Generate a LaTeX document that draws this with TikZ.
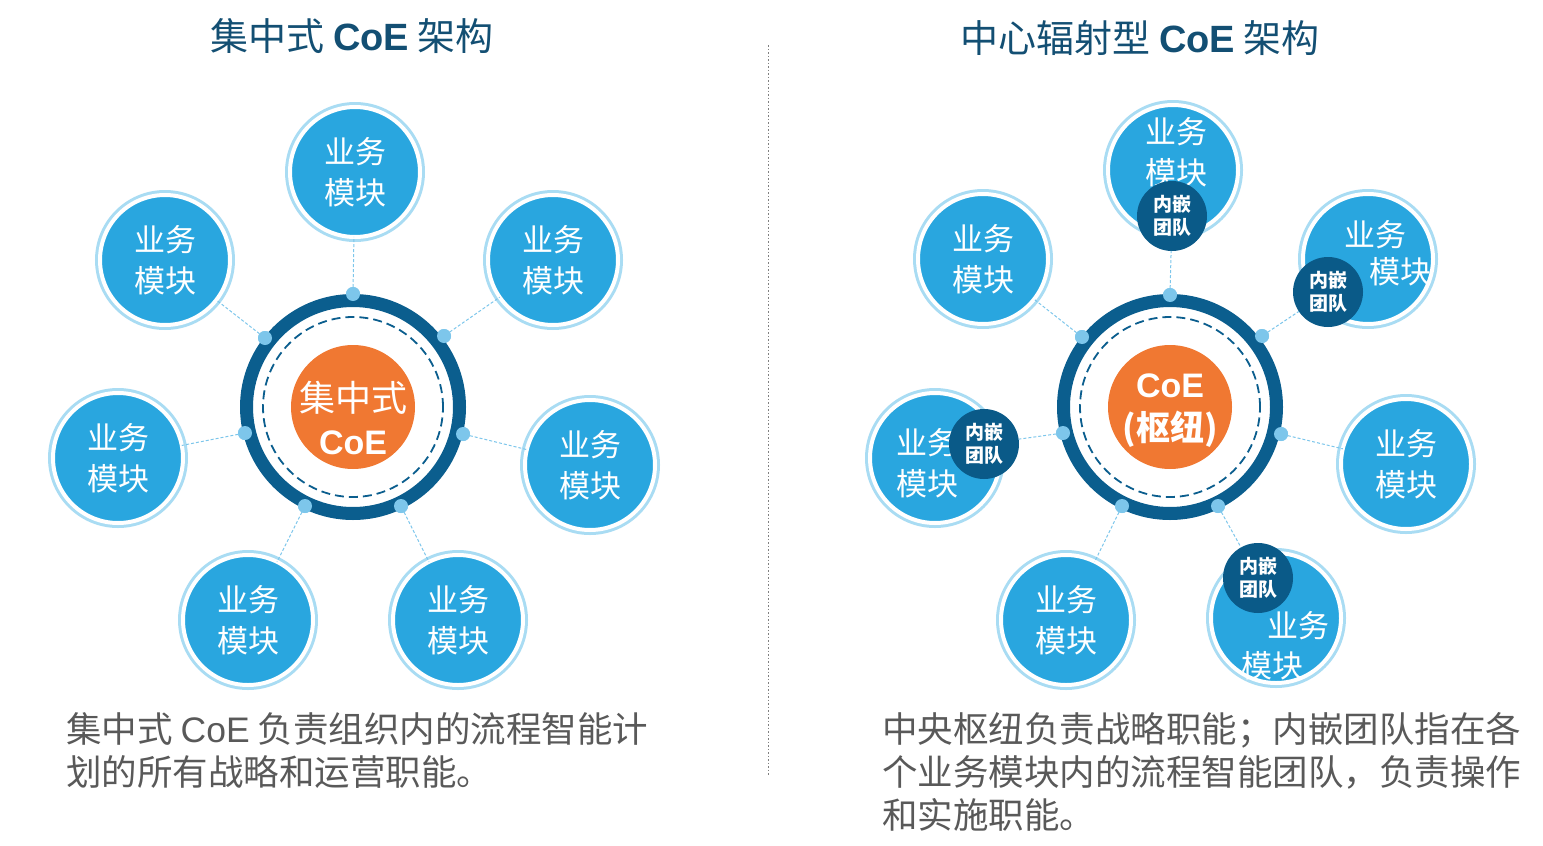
\documentclass[tikz,border=0pt]{standalone}
\usepackage{fontspec}
\setmainfont{Noto Sans CJK SC}
\newfontfamily\lat{Liberation Sans}
\definecolor{modfill}{HTML}{29A6DF}
\definecolor{lightring}{HTML}{A9DCF3}
\definecolor{dotblue}{HTML}{7DC6EB}
\definecolor{ringblue}{HTML}{0B5E8E}
\definecolor{teamblue}{HTML}{0A5A88}
\definecolor{coeorange}{HTML}{F07832}
\definecolor{titleblue}{HTML}{134F73}
\definecolor{bodygray}{HTML}{595959}
\begin{document}
\begin{tikzpicture}[x=1pt,y=-1pt,
  module/.style={circle, minimum size=130pt, inner sep=0pt, outer sep=0pt, fill=modfill, draw=white, line width=4pt,
    preaction={draw=lightring, line width=10pt}, text=white, font=\fontsize{31}{41}\selectfont, align=center},
  modtext/.style={text=white, font=\fontsize{31}{41}\selectfont, align=center, inner sep=0pt},
  team/.style={circle, minimum size=70pt, inner sep=0pt, outer sep=0pt, fill=teamblue, text=white,
    font=\fontsize{19}{23}\selectfont\bfseries, align=center},
  hubdot/.style={circle, minimum size=14pt, inner sep=0pt, outer sep=0pt, fill=dotblue},
  conn/.style={draw=dotblue, line width=1pt, dash pattern=on 3pt off 2pt},
  ringline/.style={draw=ringblue, line width=13pt},
  dashring/.style={draw=ringblue, line width=1.8pt, dash pattern=on 9pt off 5pt},
  core/.style={circle, minimum size=124pt, inner sep=0pt, fill=coeorange},
  coretext/.style={text=white, align=center, inner sep=0pt, font=\fontsize{34}{43}\selectfont},
  title/.style={text=titleblue, font=\fontsize{38}{42}\selectfont},
  body/.style={text=bodygray, font=\fontsize{35.5}{43}\selectfont, align=left, anchor=north west, inner sep=0pt}
]
\useasboundingbox (0,0) rectangle (1543,846);

% titles
\node[title] (t1) at (352,36) {集中式 {\lat\bfseries CoE} 架构};
\node[title] (t2) at (1140,38) {中心辐射型 {\lat\bfseries CoE} 架构};

% separator
\coordinate (s1) at (768,45);
\coordinate (s2) at (768,776);
\draw[gray, line width=1pt, dash pattern=on 1.5pt off 2pt] (s1) -- (s2);

% ===== left diagram =====
\coordinate (cL) at (353,407);
\node[hubdot] (dL1) at (353,294) {};
\node[hubdot] (dL2) at (265,338) {};
\node[hubdot] (dL3) at (444,336) {};
\node[hubdot] (dL4) at (245,433) {};
\node[hubdot] (dL5) at (463,434) {};
\node[hubdot] (dL6) at (305,506) {};
\node[hubdot] (dL7) at (401,506) {};

\node[module] (mL1) at (355,172) {业务\\模块};
\node[module] (mL2) at (165,260) {业务\\模块};
\node[module] (mL3) at (553,260) {业务\\模块};
\node[module] (mL4) at (118,458) {业务\\模块};
\node[module] (mL5) at (590,465) {业务\\模块};
\node[module] (mL6) at (248,620) {业务\\模块};
\node[module] (mL7) at (458,620) {业务\\模块};

\draw[conn] (dL1) -- (mL1);
\draw[conn] (dL2) -- (mL2);
\draw[conn] (dL3) -- (mL3);
\draw[conn] (dL4) -- (mL4);
\draw[conn] (dL5) -- (mL5);
\draw[conn] (dL6) -- (mL6);
\draw[conn] (dL7) -- (mL7);

\draw[ringline] (cL) circle[radius=106.5pt];
\draw[dashring] (cL) circle[radius=90pt];
\node[core] (coreL) at (cL) {};
\node[coretext] (coreLt) at (353,418) {{\fontsize{36}{43}\selectfont 集中式}\\{\lat\bfseries CoE}};
\foreach \d in {dL1,dL2,dL3,dL4,dL5,dL6,dL7} {\node[hubdot] at (\d) {};}

% ===== right diagram =====
\coordinate (cR) at (1170,407);
\node[hubdot] (dR1) at (1170,295) {};
\node[hubdot] (dR2) at (1082,337) {};
\node[hubdot] (dR3) at (1262,336) {};
\node[hubdot] (dR4) at (1063,433) {};
\node[hubdot] (dR5) at (1281,434) {};
\node[hubdot] (dR6) at (1122,506) {};
\node[hubdot] (dR7) at (1218,506) {};

\node[module] (mR1) at (1173,170) {};
\node[module] (mR2) at (983,259) {业务\\模块};
\node[module] (mR3) at (1368,259) {};
\node[module] (mR4) at (935,458) {};
\node[module] (mR5) at (1406,464) {业务\\模块};
\node[module] (mR6) at (1066,620) {业务\\模块};
\node[module] (mR7) at (1276,618) {};

\node[modtext] (xR1) at (1176,152) {业务\\模块};
\node[modtext] (xR3a) at (1375,235) {业务};
\node[modtext] (xR3b) at (1400,272) {模块};
\node[modtext] (xR4) at (927,463) {业务\\模块};
\node[modtext] (xR7a) at (1298,626) {业务};
\node[modtext] (xR7b) at (1272,666) {模块};

\node[team] (tR1) at (1172,216) {内嵌\\团队};
\node[team] (tR3) at (1328,292) {内嵌\\团队};
\node[team] (tR4) at (984,444) {内嵌\\团队};
\node[team] (tR7) at (1258,578) {内嵌\\团队};

\draw[conn] (dR1) -- (tR1);
\draw[conn] (dR2) -- (mR2);
\draw[conn] (dR3) -- (tR3);
\draw[conn] (dR4) -- (tR4);
\draw[conn] (dR5) -- (mR5);
\draw[conn] (dR6) -- (mR6);
\draw[conn] (dR7) -- (tR7);

\draw[ringline] (cR) circle[radius=106.5pt];
\draw[dashring] (cR) circle[radius=90pt];
\node[core] (coreR) at (cR) {};
\node[coretext] (coreRt) at (1170,411) {{\lat\bfseries CoE}\\{\bfseries (枢纽)}};
\foreach \d in {dR1,dR2,dR3,dR4,dR5,dR6,dR7} {\node[hubdot] at (\d) {};}

% ===== captions =====
\node[body] (bL) at (66,712) {集中式 {\lat CoE} 负责组织内的流程智能计\\划的所有战略和运营职能。};
\node[body] (bR) at (882,712) {中央枢纽负责战略职能；内嵌团队指在各\\个业务模块内的流程智能团队，负责操作\\和实施职能。};
\end{tikzpicture}
\end{document}
